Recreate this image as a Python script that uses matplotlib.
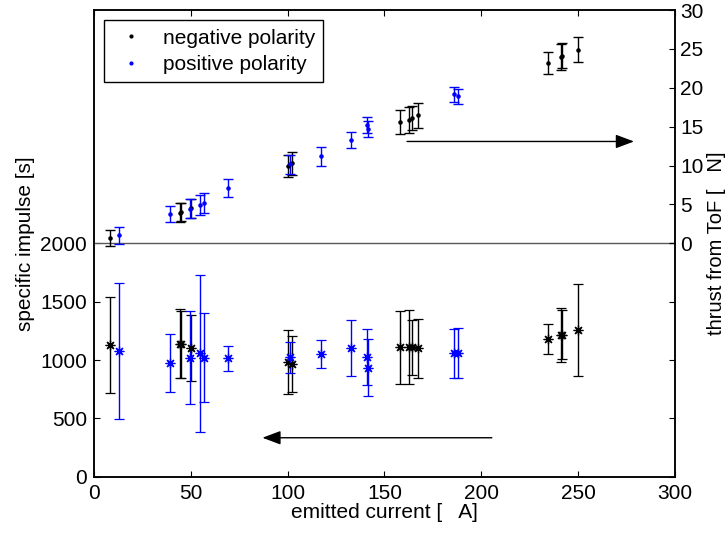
"""
Specific impulse and ToF thrust vs emitted current, both polarities.
Two y-axes: Isp on the left (lower half), thrust on the right (upper half).
"""
import numpy as np
import matplotlib
matplotlib.use("Agg")
import matplotlib.pyplot as plt
from matplotlib.lines import Line2D

# ---- data ----
neg_current = [8.2, 44.5, 45.2, 50.0, 100.0, 102.4, 158.2, 162.5, 164.3, 167.5,
               234.7, 241.0, 241.8, 250.2]
neg_thrust = [0.68, 3.95, 4.0, 4.5, 9.97, 10.3, 15.6, 15.85, 16.1, 16.45,
              23.2, 24.0, 24.1, 24.9]
neg_thrust_err = [1.0, 1.2, 1.15, 1.2, 1.45, 1.45, 1.6, 1.65, 1.55, 1.6,
                  1.4, 1.65, 1.6, 1.6]
neg_isp = [1129, 1140, 1135, 1103, 983, 963, 1109, 1109, 1109, 1100,
           1183, 1212, 1218, 1257]
neg_isp_err = [410, 295, 285, 280, 275, 240, 313, 318, 236, 255,
               130, 233, 210, 392]

pos_current = [12.7, 39.2, 49.8, 54.6, 56.7, 69.4, 101.4, 117.4, 132.6,
               141.2, 141.4, 186.0, 187.9]
pos_thrust = [1.03, 3.8, 4.45, 4.96, 5.22, 7.15, 10.15, 11.2, 13.3,
              15.2, 14.7, 19.15, 18.9]
pos_thrust_err = [1.1, 1.0, 1.2, 1.3, 1.3, 1.15, 1.2, 1.2, 1.07,
                  1.05, 1.05, 1.0, 1.0]
pos_isp = [1077, 974, 1020, 1057, 1020, 1015, 1023, 1052, 1103,
           1026, 934, 1057, 1057]
pos_isp_err = [585, 247, 398, 670, 380, 106, 130, 123, 243,
               241, 243, 211, 215]

# arrows: (start, end), thrust one on the right axis, Isp one on the left
thrust_arrow = ((161.7, 13.1), (278.9, 13.1))
isp_arrow = ((205.5, 334), (87.0, 334))

NEG, POS = "black", "#0000ff"


def main():
    plt.rcParams.update({"font.family": ["Liberation Sans", "DejaVu Sans"],
                         "font.size": 15})
    fig = plt.figure(figsize=(7.28, 5.33), dpi=100)
    ax = fig.add_axes([0.129, 0.1056, 0.798, 0.8756])
    ax2 = ax.twinx()

    eb = dict(ls="none", elinewidth=1.0, capsize=3.3, capthick=1.0)
    star = dict(marker=(8, 2, 0), ms=7, mew=0.9)

    # Isp (left)
    ax.errorbar(neg_current, neg_isp, yerr=neg_isp_err, color=NEG,
                mec=NEG, **star, **eb)
    ax.errorbar(pos_current, pos_isp, yerr=pos_isp_err, color=POS,
                mec=POS, **star, **eb)

    # thrust (right)
    ax2.errorbar(neg_current, neg_thrust, yerr=neg_thrust_err, color=NEG,
                 marker=".", ms=4.5, **eb)
    ax2.errorbar(pos_current, pos_thrust, yerr=pos_thrust_err, color=POS,
                 marker=".", ms=4.5, **eb)
    ax2.axhline(0, color="0.35", lw=1.0, zorder=0)

    arrow = dict(arrowstyle="-|>,head_length=0.8,head_width=0.3",
                 mutation_scale=14, lw=1.0, color="black",
                 shrinkA=0, shrinkB=0)
    ax2.annotate("", xy=thrust_arrow[1], xytext=thrust_arrow[0],
                 arrowprops=arrow)
    ax.annotate("", xy=isp_arrow[1], xytext=isp_arrow[0], arrowprops=arrow)

    ax.set_xlim(0, 300)
    ax.set_xticks(np.arange(0, 301, 50))
    ax.set_ylim(0, 4000)
    ax.set_yticks(np.arange(0, 2001, 500))
    ax2.set_ylim(-30, 30)
    ax2.set_yticks(np.arange(0, 31, 5))

    ax.tick_params(direction="in", length=4, width=0.8, top=True, right=True,
                   labelright=False, pad=5)
    ax2.tick_params(direction="in", length=4, width=0.8, pad=4)
    for a in (ax, ax2):
        for s in a.spines.values():
            s.set_linewidth(1.1)

    ax.set_xlabel("emitted current [   A]", labelpad=0)
    ax.set_ylabel("specific impulse [s]", labelpad=4)
    ax2.set_ylabel("thrust from ToF [   N]", labelpad=2, fontsize=14.5)

    handles = [Line2D([], [], ls="none", marker=".", ms=4, color=NEG),
               Line2D([], [], ls="none", marker=".", ms=4, color=POS)]
    leg = ax2.legend(handles, ["negative polarity", "positive polarity"],
                     loc="upper left", fancybox=False, framealpha=1,
                     edgecolor="black", borderaxespad=0.5,
                     handlelength=1.8, handletextpad=0.6,
                     borderpad=0.4, labelspacing=0.35)
    leg.get_frame().set_linewidth(1.0)

    fig.savefig("out.png", dpi=100)
    plt.close(fig)


if __name__ == "__main__":
    main()
